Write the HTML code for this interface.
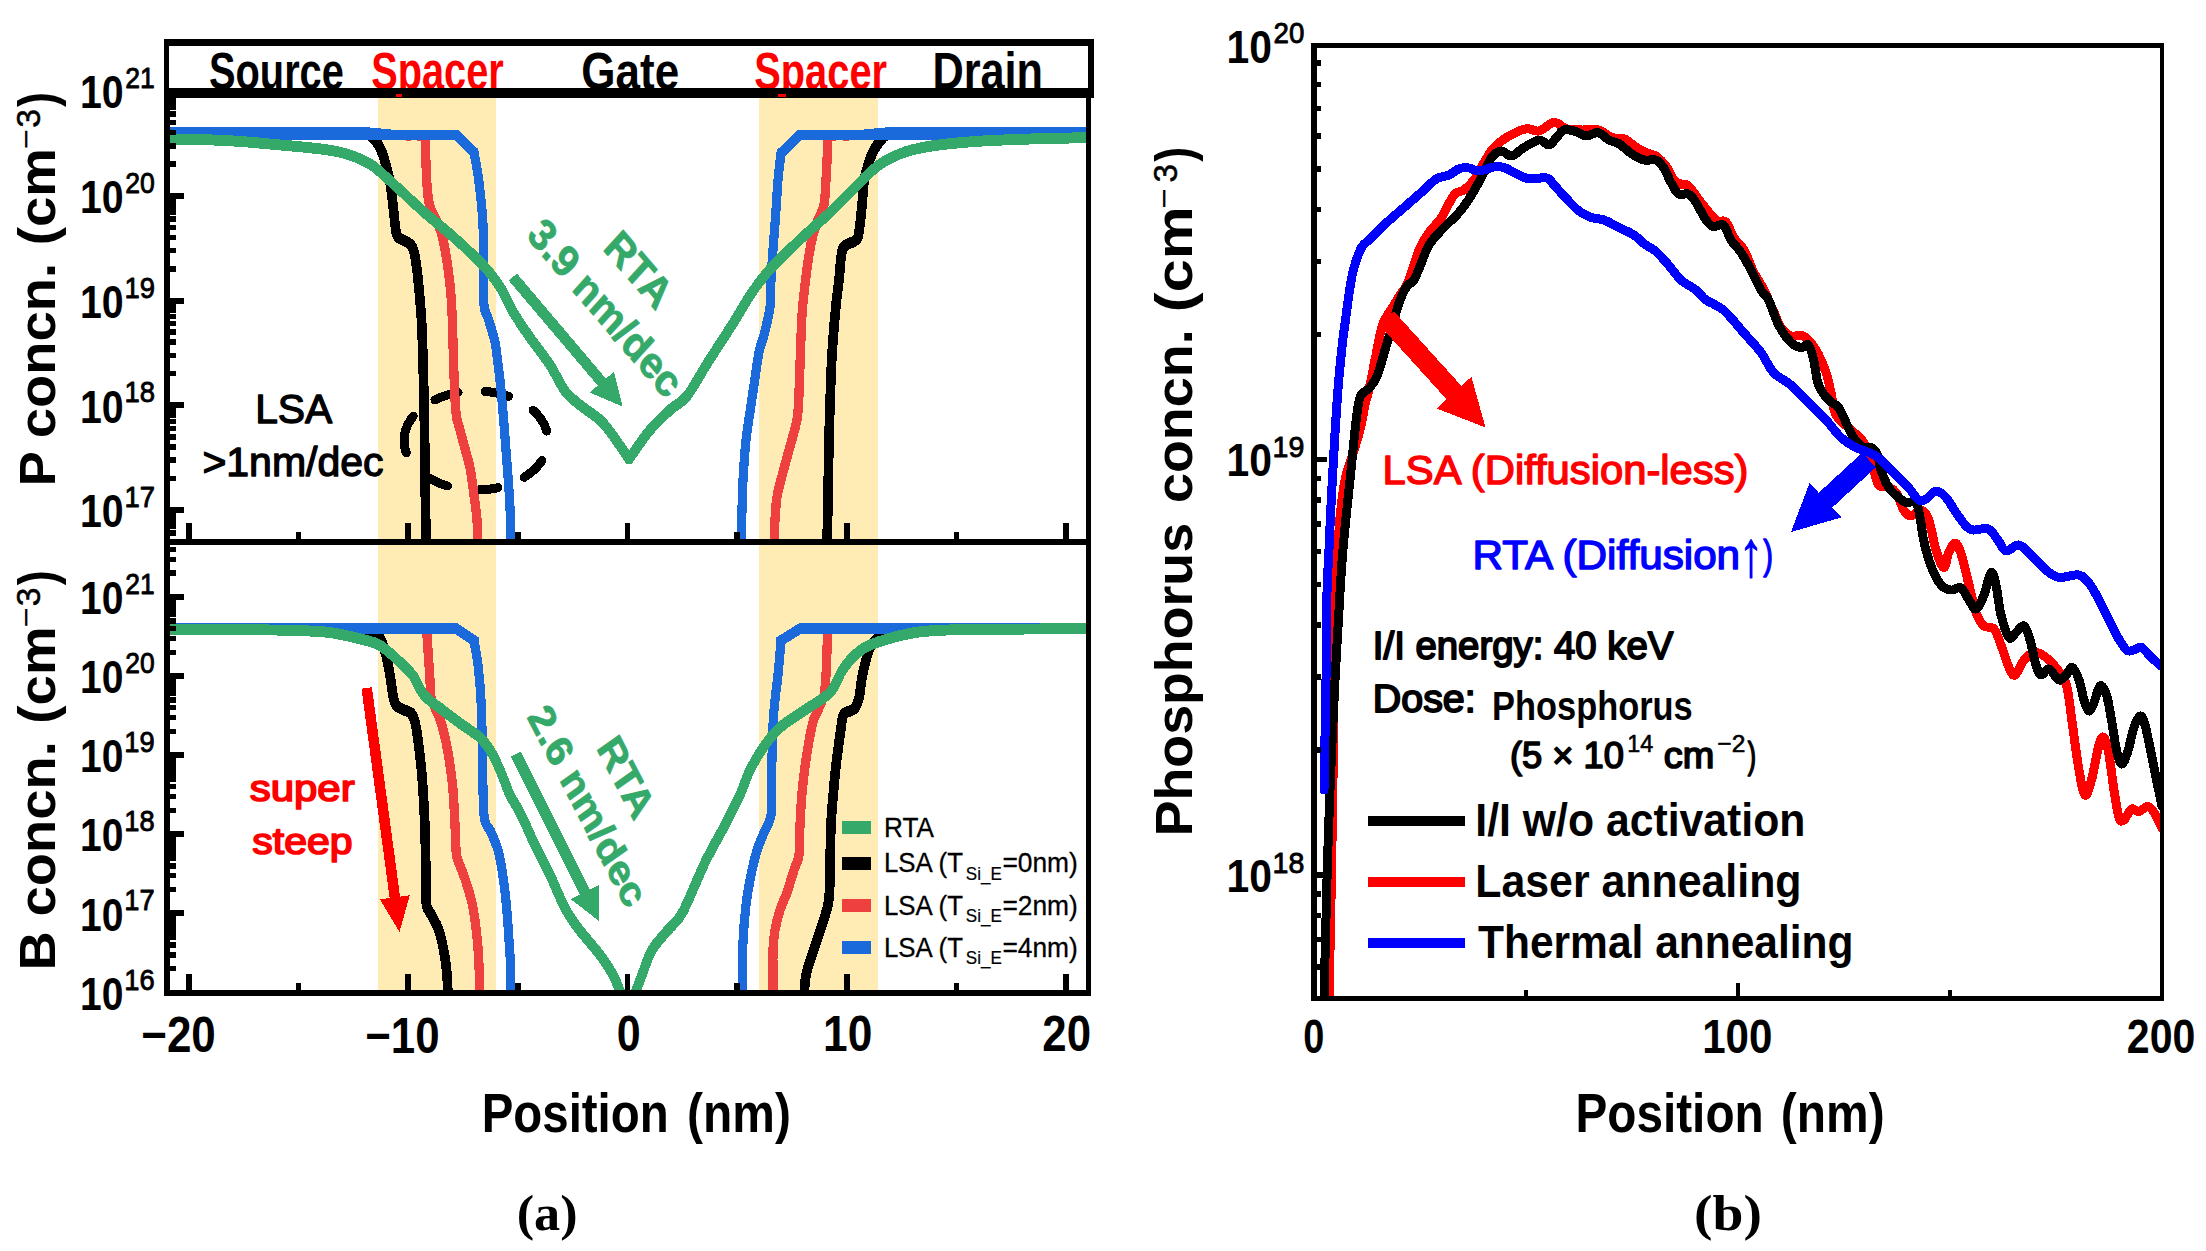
<!DOCTYPE html>
<html lang="en"><head><meta charset="utf-8"><title>Figure</title>
<style>html,body{margin:0;padding:0;background:#fff}svg{display:block}text{font-family:"Liberation Sans",Arial,sans-serif;white-space:pre}text.sf{font-family:"Liberation Serif","Times New Roman",serif}</style>
</head><body>
<svg width="2206" height="1251" viewBox="0 0 2206 1251" shape-rendering="crispEdges">
<rect width="2206" height="1251" fill="#fff"/>
<defs><clipPath id="cT"><rect x="170" y="98" width="916" height="441"/></clipPath><clipPath id="cB"><rect x="170" y="545" width="916" height="445"/></clipPath><clipPath id="cR"><rect x="1316" y="48" width="844" height="948"/></clipPath></defs>
<rect x="377.5" y="98" width="118" height="893" fill="#FFEBB4"/>
<rect x="759" y="98" width="119.3" height="893" fill="#FFEBB4"/>
<path d="M406.26,452.81L404.87,448.19L404.13,443.5L404.04,438.78L404.61,434.08L405.82,429.44L407.67,424.9L410.14,420.49L413.21,416.28" fill="none" stroke="#000" stroke-width="9" stroke-linecap="round" stroke-linejoin="round"/>
<path d="M434.91,399.85L437.58,398.64L440.33,397.5L443.14,396.45L446.03,395.49L448.97,394.62L451.97,393.84L455.01,393.15L458.09,392.56" fill="none" stroke="#000" stroke-width="9" stroke-linecap="round" stroke-linejoin="round"/>
<path d="M485.15,391.4L488.19,391.71L491.22,392.12L494.21,392.61L497.17,393.19L500.09,393.85L502.97,394.6L505.8,395.44L508.58,396.36" fill="none" stroke="#000" stroke-width="9" stroke-linecap="round" stroke-linejoin="round"/>
<path d="M532.97,410.23L535.43,412.56L537.7,414.99L539.76,417.5L541.6,420.09L543.21,422.75L544.6,425.47L545.76,428.24L546.68,431.05" fill="none" stroke="#000" stroke-width="9" stroke-linecap="round" stroke-linejoin="round"/>
<path d="M541.83,460.55L540.21,462.9L538.42,465.18L536.45,467.39L534.32,469.53L532.03,471.58L529.59,473.56L527,475.44L524.27,477.23" fill="none" stroke="#000" stroke-width="9" stroke-linecap="round" stroke-linejoin="round"/>
<path d="M497.89,487.66L495.53,488.14L493.14,488.58L490.74,488.95L488.32,489.27L485.88,489.53L483.43,489.74L480.98,489.88L478.51,489.97" fill="none" stroke="#000" stroke-width="9" stroke-linecap="round" stroke-linejoin="round"/>
<path d="M447.52,485.96L444.97,485.17L442.48,484.31L440.03,483.38L437.63,482.39L435.3,481.33L433.02,480.21L430.81,479.04L428.67,477.8" fill="none" stroke="#000" stroke-width="9" stroke-linecap="round" stroke-linejoin="round"/>
<g clip-path="url(#cT)"><g transform="scale(1 1.15)" stroke-linejoin="round">
<path d="M360,115.65C361.33,115.87 365.5,115.94 368,116.96C370.5,117.97 372.83,119.49 375,121.74C377.17,123.99 379.17,126.81 381,130.43C382.83,134.06 384.5,138.84 386,143.48C387.5,148.12 388.83,152.46 390,158.26C391.17,164.06 392.08,171.59 393,178.26C393.92,184.93 394.67,193.62 395.5,198.26C396.33,202.9 396.42,204.2 398,206.09C399.58,207.97 402.83,208.41 405,209.57C407.17,210.72 409.5,211.45 411,213.04C412.5,214.64 413,215.51 414,219.13C415,222.75 416,227.83 417,234.78C418,241.74 419.17,252.17 420,260.87C420.83,269.57 421.33,272.46 422,286.96C422.67,301.45 423.5,327.54 424,347.83C424.5,368.12 424.67,387.68 425,408.7C425.33,429.71 425.83,463.04 426,473.91" fill="none" stroke="#000" stroke-width="9.7" />
<path d="M895,115.65C893.67,115.87 889.5,115.8 887,116.96C884.5,118.12 882.33,120.07 880,122.61C877.67,125.14 875,128.7 873,132.17C871,135.65 869.5,139.13 868,143.48C866.5,147.83 865,152.46 864,158.26C863,164.06 862.83,171.01 862,178.26C861.17,185.51 860,196.67 859,201.74C858,206.81 857.83,206.96 856,208.7C854.17,210.43 850.17,211.01 848,212.17C845.83,213.33 844.17,213.62 843,215.65C841.83,217.68 841.67,219.71 841,224.35C840.33,228.99 839.83,236.67 839,243.48C838.17,250.29 837,256.52 836,265.22C835,273.91 833.83,285.51 833,295.65C832.17,305.8 831.67,311.59 831,326.09C830.33,340.58 829.5,364.49 829,382.61C828.5,400.72 828.33,419.57 828,434.78C827.67,450 827.17,467.39 827,473.91" fill="none" stroke="#000" stroke-width="9.7" />
<path d="M406,117.65C408.17,117.65 415.83,117.26 419,117.65C422.17,118.04 423.92,117.87 425,120C426.08,122.13 425.17,123.62 425.5,130.43C425.83,137.25 426.33,152.9 427,160.87C427.67,168.84 428,173.19 429.5,178.26C431,183.33 434.08,187.39 436,191.3C437.92,195.22 439.33,196.67 441,201.74C442.67,206.81 444.5,214.06 446,221.74C447.5,229.42 449,239.57 450,247.83C451,256.09 451.33,258.26 452,271.3C452.67,284.35 453.33,311.45 454,326.09C454.67,340.72 455,351.16 456,359.13C457,367.1 458.67,369.28 460,373.91C461.33,378.55 462.33,381.45 464,386.96C465.67,392.46 468.33,399.71 470,406.96C471.67,414.2 472.83,422.9 474,430.43C475.17,437.97 476.33,444.93 477,452.17C477.67,459.42 477.83,470.29 478,473.91" fill="none" stroke="#EF4040" stroke-width="9.3" />
<path d="M849,117.65C846.5,117.65 837.5,117.26 834,117.65C830.5,118.04 829.08,117.87 828,120C826.92,122.13 827.83,124.35 827.5,130.43C827.17,136.52 826.58,148.55 826,156.52C825.42,164.49 825.33,172.46 824,178.26C822.67,184.06 819.83,186.96 818,191.3C816.17,195.65 814.5,199.28 813,204.35C811.5,209.42 810.33,214.49 809,221.74C807.67,228.99 806.17,239.13 805,247.83C803.83,256.52 802.83,262.32 802,273.91C801.17,285.51 800.67,303.33 800,317.39C799.33,331.45 799,348.55 798,358.26C797,367.97 795.5,370.14 794,375.65C792.5,381.16 791,384.93 789,391.3C787,397.68 784,407.1 782,413.91C780,420.72 778.17,425.8 777,432.17C775.83,438.55 775.5,445.22 775,452.17C774.5,459.13 774.17,470.29 774,473.91" fill="none" stroke="#EF4040" stroke-width="9.3" />
<path d="M160,117.3L456,117.3L474,132.17L474,132.17C474.67,135.51 476.83,145.22 478,152.17C479.17,159.13 480.17,166.67 481,173.91C481.83,181.16 482.57,186.96 483,195.65C483.43,204.35 483.47,214.64 483.6,226.09C483.73,237.54 483.07,255.94 483.8,264.35C484.53,272.75 486.63,272.61 488,276.52C489.37,280.43 490.77,284.06 492,287.83C493.23,291.59 494.4,294.35 495.4,299.13C496.4,303.91 497.15,310.58 498,316.52C498.85,322.46 499.67,327.83 500.5,334.78C501.33,341.74 502.08,348.84 503,358.26C503.92,367.68 505,380 506,391.3C507,402.61 508.25,415.94 509,426.09C509.75,436.23 510.17,444.2 510.5,452.17C510.83,460.14 510.92,470.29 511,473.91" fill="none" stroke="#1A6ADC" stroke-width="9.2" stroke-linejoin="miter"/>
<path d="M1095,117.3L800,117.3L781,133.04L781,133.04C780.5,136.96 778.83,148.26 778,156.52C777.17,164.78 776.83,172.46 776,182.61C775.17,192.75 773.83,207.25 773,217.39C772.17,227.54 771.5,235.22 771,243.48C770.5,251.74 771.17,258.99 770,266.96C768.83,274.93 765.83,284.78 764,291.3C762.17,297.83 760.67,298.84 759,306.09C757.33,313.33 755.5,326.09 754,334.78C752.5,343.48 751.33,350.29 750,358.26C748.67,366.23 747.17,372.75 746,382.61C744.83,392.46 743.67,407.25 743,417.39C742.33,427.54 742.33,434.06 742,443.48C741.67,452.9 741.17,468.84 741,473.91" fill="none" stroke="#1A6ADC" stroke-width="9.2" stroke-linejoin="miter"/>
<path d="M160,115.13L366,115.13L392,117.3" fill="none" stroke="#1A6ADC" stroke-width="9.2" />
<path d="M1095,115.13L889,115.13L863,117.3" fill="none" stroke="#1A6ADC" stroke-width="9.2" />
<path d="M160,120.7C170.83,120.94 205.83,121.35 225,122.17C244.17,123 258.33,124.35 275,125.65C291.67,126.96 312.5,128.48 325,130C337.5,131.52 342.5,132.68 350,134.78C357.5,136.88 364.58,139.86 370,142.61C375.42,145.36 377.5,147.54 382.5,151.3C387.5,155.07 392.92,159.57 400,165.22C407.08,170.87 416.67,178.84 425,185.22C433.33,191.59 441.67,197.1 450,203.48C458.33,209.86 468.33,217.83 475,223.48C481.67,229.13 485.42,232.46 490,237.39C494.58,242.32 498.75,247.54 502.5,253.04C506.25,258.55 507.92,263.7 512.5,270.43C517.08,277.17 523.75,285.65 530,293.48C536.25,301.3 544.17,309.64 550,317.39C555.83,325.14 560,334.2 565,340C570,345.8 574.17,347.97 580,352.17C585.83,356.38 594.58,360.87 600,365.22C605.42,369.57 607.67,372.61 612.5,378.26C617.33,383.91 626.25,395.65 629,399.13L629,399.13C632.5,394.93 643.17,381.01 650,373.91C656.83,366.81 663.83,361.45 670,356.52C676.17,351.59 680.75,351.16 687,344.35C693.25,337.54 700,325.94 707.5,315.65C715,305.36 724.58,292.83 732,282.61C739.42,272.39 745.42,262.68 752,254.35C758.58,246.01 762.67,240.94 771.5,232.61C780.33,224.28 795.25,212.32 805,204.35C814.75,196.38 821.67,191.67 830,184.78C838.33,177.9 848.33,168.84 855,163.04C861.67,157.25 865,153.84 870,150C875,146.16 879.17,142.97 885,140C890.83,137.03 897.25,134.35 905,132.17C912.75,130 919.83,128.48 931.5,126.96C943.17,125.43 958.58,124.06 975,123.04C991.42,122.03 1010,121.45 1030,120.87C1050,120.29 1084.17,119.78 1095,119.57" fill="none" stroke="#35A96A" stroke-width="9.5" />
</g></g>
<g clip-path="url(#cB)"><g transform="scale(1 1.15)" stroke-linejoin="round">
<path d="M360,546.96C361.33,547.17 365.67,547.68 368,548.26C370.33,548.84 372,549.35 374,550.43C376,551.52 378,551.59 380,554.78C382,557.97 384.33,564.2 386,569.57C387.67,574.93 388.83,581.16 390,586.96C391.17,592.75 392,600 393,604.35C394,608.7 394.17,610.87 396,613.04C397.83,615.22 401.5,616.23 404,617.39C406.5,618.55 409.17,618.26 411,620C412.83,621.74 413.83,623.91 415,627.83C416.17,631.74 417,637.25 418,643.48C419,649.71 420.17,657.97 421,665.22C421.83,672.46 422.33,677.54 423,686.96C423.67,696.38 424.5,708.7 425,721.74C425.5,734.78 425.75,754.35 426,765.22C426.25,776.09 425.5,781.74 426.5,786.96C427.5,792.17 430.08,793.19 432,796.52C433.92,799.86 436.33,803.19 438,806.96C439.67,810.72 440.83,814.78 442,819.13C443.17,823.48 444.17,828.26 445,833.04C445.83,837.83 446.5,842.32 447,847.83C447.5,853.33 447.83,863.04 448,866.09" fill="none" stroke="#000" stroke-width="9.7" />
<path d="M895,546.96C893.83,547.17 890.17,547.39 888,548.26C885.83,549.13 885,549.71 882,552.17C879,554.64 873.25,557.25 870,563.04C866.75,568.84 864.33,579.64 862.5,586.96C860.67,594.28 860.42,602.03 859,606.96C857.58,611.88 856.5,614.2 854,616.52C851.5,618.84 846.17,618.12 844,620.87C841.83,623.62 842,627.83 841,633.04C840,638.26 839,645.36 838,652.17C837,658.99 836.17,663.04 835,673.91C833.83,684.78 831.83,702.9 831,717.39C830.17,731.88 830.42,749.71 830,760.87C829.58,772.03 829.83,777.1 828.5,784.35C827.17,791.59 824.75,796.67 822,804.35C819.25,812.03 814.67,823.19 812,830.43C809.33,837.68 807.33,841.88 806,847.83C804.67,853.77 804.33,863.04 804,866.09" fill="none" stroke="#000" stroke-width="9.7" />
<path d="M427,544.35C427,545.51 426.83,547.83 427,551.3C427.17,554.78 427.5,558.55 428,565.22C428.5,571.88 429.5,584.49 430,591.3C430.5,598.12 430,601.74 431,606.09C432,610.43 434.33,613.77 436,617.39C437.67,621.01 439.33,623.19 441,627.83C442.67,632.46 444.5,638.99 446,645.22C447.5,651.45 448.83,658.26 450,665.22C451.17,672.17 452.17,678.26 453,686.96C453.83,695.65 454.42,707.97 455,717.39C455.58,726.81 455.5,737.25 456.5,743.48C457.5,749.71 459.42,750.87 461,754.78C462.58,758.7 464.17,761.88 466,766.96C467.83,772.03 470.33,778.55 472,785.22C473.67,791.88 474.92,799.42 476,806.96C477.08,814.49 477.83,820.58 478.5,830.43C479.17,840.29 479.75,860.14 480,866.09" fill="none" stroke="#EF4040" stroke-width="9.3" />
<path d="M827.5,544.35C827.5,545.51 827.58,547.83 827.5,551.3C827.42,554.78 827.25,559.28 827,565.22C826.75,571.16 826.5,580.43 826,586.96C825.5,593.48 825.33,599.28 824,604.35C822.67,609.42 819.83,613.48 818,617.39C816.17,621.3 814.75,622.03 813,627.83C811.25,633.62 809.25,642.68 807.5,652.17C805.75,661.67 803.75,673.91 802.5,684.78C801.25,695.65 800.58,707.61 800,717.39C799.42,727.17 800,736.96 799,743.48C798,750 796,751.09 794,756.52C792,761.96 789.33,770.29 787,776.09C784.67,781.88 782,785.87 780,791.3C778,796.74 776.17,802.9 775,808.7C773.83,814.49 773.33,816.52 773,826.09C772.67,835.65 773,859.42 773,866.09" fill="none" stroke="#EF4040" stroke-width="9.3" />
<path d="M160,546.61L456,546.61L474,556.96L474,557.39C474.67,560.87 476.83,569.71 478,578.26C479.17,586.81 480.25,596.38 481,608.7C481.75,621.01 482,635.51 482.5,652.17C483,668.84 482.58,696.81 484,708.7C485.42,720.58 488.67,718.41 491,723.48C493.33,728.55 496.17,733.62 498,739.13C499.83,744.64 500.83,750.43 502,756.52C503.17,762.61 504.17,769.57 505,775.65C505.83,781.74 506.33,786.09 507,793.04C507.67,800 508.42,809.71 509,817.39C509.58,825.07 510.17,831.01 510.5,839.13C510.83,847.25 510.92,861.59 511,866.09" fill="none" stroke="#1A6ADC" stroke-width="9.2" stroke-linejoin="miter"/>
<path d="M1095,546.61L800,546.61L781,556.96L781,557.39C780.5,562.32 779,578.41 778,586.96C777,595.51 775.83,601.45 775,608.7C774.17,615.94 773.58,618.84 773,630.43C772.42,642.03 771.83,665.22 771.5,678.26C771.17,691.3 772.42,700.72 771,708.7C769.58,716.67 765.42,720.72 763,726.09C760.58,731.45 758.67,734.35 756.5,740.87C754.33,747.39 751.75,757.54 750,765.22C748.25,772.9 747.17,777.97 746,786.96C744.83,795.94 743.67,805.94 743,819.13C742.33,832.32 742.17,858.26 742,866.09" fill="none" stroke="#1A6ADC" stroke-width="9.2" stroke-linejoin="miter"/>
<path d="M160,547.57C179.17,547.61 247.5,547.49 275,547.83C302.5,548.16 312.5,548.62 325,549.57C337.5,550.51 341.67,551.88 350,553.48C358.33,555.07 369.17,557.32 375,559.13C380.83,560.94 381.67,562.25 385,564.35C388.33,566.45 390.42,567.97 395,571.74C399.58,575.51 407.67,581.52 412.5,586.96C417.33,592.39 419,599.28 424,604.35C429,609.42 436.08,613.04 442.5,617.39C448.92,621.74 456.25,626.45 462.5,630.43C468.75,634.42 475.42,637.68 480,641.3C484.58,644.93 486.67,647.46 490,652.17C493.33,656.88 496.67,663.04 500,669.57C503.33,676.09 506.67,685.14 510,691.3C513.33,697.46 515.83,699.28 520,706.52C524.17,713.77 530,725.72 535,734.78C540,743.84 545,751.74 550,760.87C555,770 560.33,781.88 565,789.57C569.67,797.25 572.17,800.14 578,806.96C583.83,813.77 594.17,823.62 600,830.43C605.83,837.25 609.33,841.88 613,847.83C616.67,853.77 620.5,863.04 622,866.09" fill="none" stroke="#35A96A" stroke-width="9.5" />
<path d="M634,866.09C635.33,863.04 639,854.49 642,847.83C645,841.16 647.67,832.61 652,826.09C656.33,819.57 662.92,814.13 668,808.7C673.08,803.26 676.33,803.26 682.5,793.48C688.67,783.7 697.92,762.68 705,750C712.08,737.32 719.17,727.17 725,717.39C730.83,707.61 735.83,699.28 740,691.3C744.17,683.33 745.83,676.81 750,669.57C754.17,662.32 760,653.99 765,647.83C770,641.67 773.33,637.68 780,632.61C786.67,627.54 796.67,622.46 805,617.39C813.33,612.32 823.75,607.97 830,602.17C836.25,596.38 838.33,588.04 842.5,582.61C846.67,577.17 850.42,573.19 855,569.57C859.58,565.94 861.67,563.84 870,560.87C878.33,557.9 894.75,553.8 905,551.74C915.25,549.68 919,549.28 931.5,548.52C944,547.77 952.75,547.51 980,547.22C1007.25,546.93 1075.83,546.86 1095,546.78" fill="none" stroke="#35A96A" stroke-width="9.5" />
</g></g>
<polygon points="508.68,280.49 597.7,385.57 589.61,392.42 622.5,406.5 614.02,371.74 605.94,378.59 516.92,273.51" fill="#35A96A"/>
<polygon points="510.99,756.49 579.74,894.84 570.88,899.24 599,921 598.64,885.45 589.77,889.85 521.01,751.51" fill="#35A96A"/>
<polygon points="361.5,688.7 389.63,898.01 379.97,899.31 399.5,932 409.7,895.31 400.04,896.61 371.9,687.3" fill="#FF0000"/>
<rect x="842" y="821.25" width="28.75" height="12.5" fill="#35A96A"/>
<rect x="842" y="857" width="28.75" height="12.5" fill="#000"/>
<rect x="842" y="899.25" width="28.75" height="12.5" fill="#EF4040"/>
<rect x="842" y="941.25" width="28.75" height="12.5" fill="#1A6ADC"/>
<text transform="translate(602.1 249) scale(1 1.13) rotate(45.8) translate(0 0)" font-size="39.1" font-weight="bold" fill="#35A96A" stroke="#35A96A" stroke-width="0.8" stroke-linejoin="round">RTA</text>
<text transform="translate(525.4 236.6) scale(1 1.13) rotate(45.8) translate(0 0)" font-size="39.1" font-weight="bold" fill="#35A96A" stroke="#35A96A" stroke-width="0.8" stroke-linejoin="round">3.9 nm/dec</text>
<text transform="translate(595.9 747.9) scale(1 1.17) rotate(58.7) translate(0 0)" font-size="37.4" font-weight="bold" fill="#35A96A" stroke="#35A96A" stroke-width="0.8" stroke-linejoin="round">RTA</text>
<text transform="translate(526.5 717.1) scale(1 1.17) rotate(58.7) translate(0 0)" font-size="37.4" font-weight="bold" fill="#35A96A" stroke="#35A96A" stroke-width="0.8" stroke-linejoin="round">2.6 nm/dec</text>
<text transform="translate(255.15 423.35) scale(0.9996 1.0000)" font-size="40.87" fill="#000" stroke="#000" stroke-width="1.3" stroke-linejoin="round">LSA</text>
<text transform="translate(202.39 476.1) scale(1.0031 1.0000)" font-size="40.87" fill="#000" stroke="#000" stroke-width="1.3" stroke-linejoin="round">&gt;1nm/dec</text>
<text transform="translate(249.73 801.15) scale(1.1223 1.0000)" font-size="37.39" fill="#FF0000" stroke="#FF0000" stroke-width="1.7" stroke-linejoin="round">super</text>
<text transform="translate(252.25 854.15) scale(1.0966 1.0000)" font-size="37.39" fill="#FF0000" stroke="#FF0000" stroke-width="1.7" stroke-linejoin="round">steep</text>
<text transform="translate(884.02 836.85) scale(0.9407 1.0000)" font-size="27.83" fill="#000" stroke="#000" stroke-width="0.3" stroke-linejoin="round">RTA</text>
<text transform="translate(883.99 872.35) scale(0.9534 1.0000)" font-size="27.1" fill="#000" stroke="#000" stroke-width="0.3" stroke-linejoin="round">LSA (T</text>
<text transform="translate(965.85 879.9) scale(0.9551 1.0000)" font-size="17.83" fill="#000" stroke="#000" stroke-width="0.2" stroke-linejoin="round">Si_E</text>
<text transform="translate(1002.43 872.35) scale(0.9725 1.0000)" font-size="27.1" fill="#000" stroke="#000" stroke-width="0.3" stroke-linejoin="round">=0nm)</text>
<text transform="translate(883.99 914.85) scale(0.9534 1.0000)" font-size="27.1" fill="#000" stroke="#000" stroke-width="0.3" stroke-linejoin="round">LSA (T</text>
<text transform="translate(965.85 922.4) scale(0.9551 1.0000)" font-size="17.83" fill="#000" stroke="#000" stroke-width="0.2" stroke-linejoin="round">Si_E</text>
<text transform="translate(1002.43 914.85) scale(0.9725 1.0000)" font-size="27.1" fill="#000" stroke="#000" stroke-width="0.3" stroke-linejoin="round">=2nm)</text>
<text transform="translate(883.99 956.85) scale(0.9534 1.0000)" font-size="27.1" fill="#000" stroke="#000" stroke-width="0.3" stroke-linejoin="round">LSA (T</text>
<text transform="translate(965.85 964.4) scale(0.9551 1.0000)" font-size="17.83" fill="#000" stroke="#000" stroke-width="0.2" stroke-linejoin="round">Si_E</text>
<text transform="translate(1002.43 956.85) scale(0.9725 1.0000)" font-size="27.1" fill="#000" stroke="#000" stroke-width="0.3" stroke-linejoin="round">=4nm)</text>
<clipPath id="cL"><rect x="165" y="40" width="928" height="57.4"/></clipPath><g clip-path="url(#cL)">
<text transform="translate(209.03 88.8) scale(0.7731 1.0000)" font-size="51.45" font-weight="bold" fill="#000">Source</text>
<text transform="translate(371.23 88.8) scale(0.7725 1.0000)" font-size="51.45" font-weight="bold" fill="#FF0000">Spacer</text>
<text transform="translate(581.29 88.8) scale(0.8556 1.0000)" font-size="51.45" font-weight="bold" fill="#000">Gate</text>
<text transform="translate(754.23 88.8) scale(0.7740 1.0000)" font-size="51.45" font-weight="bold" fill="#FF0000">Spacer</text>
<text transform="translate(932.38 88.8) scale(0.8416 1.0000)" font-size="51.45" font-weight="bold" fill="#000">Drain</text>
</g>
<rect x="164" y="39" width="930" height="6.9" fill="#000"/>
<rect x="164" y="88" width="930" height="9.6" fill="#000"/>
<rect x="395.5" y="94.2" width="6.8" height="2.4" fill="#FF0000"/>
<rect x="778.4" y="94.2" width="7.2" height="2.4" fill="#FF0000"/>
<rect x="164" y="39" width="5" height="58.6" fill="#000"/>
<rect x="1088.1" y="39" width="5.9" height="58.6" fill="#000"/>
<rect x="164" y="97" width="6.1" height="898.5" fill="#000"/>
<rect x="1086" y="97" width="5.1" height="898.5" fill="#000"/>
<rect x="164" y="538.75" width="927.1" height="6.25" fill="#000"/>
<rect x="164" y="990" width="927.1" height="5.5" fill="#000"/>
<rect x="170" y="530.49" width="5.9" height="5.5" fill="#000"/>
<rect x="170" y="523.48" width="5.9" height="5.5" fill="#000"/>
<rect x="170" y="517.4" width="5.9" height="5.5" fill="#000"/>
<rect x="170" y="512.04" width="5.9" height="5.5" fill="#000"/>
<rect x="170" y="507" width="13.75" height="6" fill="#000"/>
<rect x="170" y="475.72" width="5.9" height="5.5" fill="#000"/>
<rect x="170" y="457.27" width="5.9" height="5.5" fill="#000"/>
<rect x="170" y="444.18" width="5.9" height="5.5" fill="#000"/>
<rect x="170" y="434.03" width="5.9" height="5.5" fill="#000"/>
<rect x="170" y="425.74" width="5.9" height="5.5" fill="#000"/>
<rect x="170" y="418.73" width="5.9" height="5.5" fill="#000"/>
<rect x="170" y="412.65" width="5.9" height="5.5" fill="#000"/>
<rect x="170" y="407.29" width="5.9" height="5.5" fill="#000"/>
<rect x="170" y="402.25" width="13.75" height="6" fill="#000"/>
<rect x="170" y="370.97" width="5.9" height="5.5" fill="#000"/>
<rect x="170" y="352.52" width="5.9" height="5.5" fill="#000"/>
<rect x="170" y="339.43" width="5.9" height="5.5" fill="#000"/>
<rect x="170" y="329.28" width="5.9" height="5.5" fill="#000"/>
<rect x="170" y="320.99" width="5.9" height="5.5" fill="#000"/>
<rect x="170" y="313.98" width="5.9" height="5.5" fill="#000"/>
<rect x="170" y="307.9" width="5.9" height="5.5" fill="#000"/>
<rect x="170" y="302.54" width="5.9" height="5.5" fill="#000"/>
<rect x="170" y="297.5" width="13.75" height="6" fill="#000"/>
<rect x="170" y="266.22" width="5.9" height="5.5" fill="#000"/>
<rect x="170" y="247.77" width="5.9" height="5.5" fill="#000"/>
<rect x="170" y="234.68" width="5.9" height="5.5" fill="#000"/>
<rect x="170" y="224.53" width="5.9" height="5.5" fill="#000"/>
<rect x="170" y="216.24" width="5.9" height="5.5" fill="#000"/>
<rect x="170" y="209.23" width="5.9" height="5.5" fill="#000"/>
<rect x="170" y="203.15" width="5.9" height="5.5" fill="#000"/>
<rect x="170" y="197.79" width="5.9" height="5.5" fill="#000"/>
<rect x="170" y="192.75" width="13.75" height="6" fill="#000"/>
<rect x="170" y="161.47" width="5.9" height="5.5" fill="#000"/>
<rect x="170" y="143.02" width="5.9" height="5.5" fill="#000"/>
<rect x="170" y="129.93" width="5.9" height="5.5" fill="#000"/>
<rect x="170" y="119.78" width="5.9" height="5.5" fill="#000"/>
<rect x="170" y="111.49" width="5.9" height="5.5" fill="#000"/>
<rect x="170" y="104.48" width="5.9" height="5.5" fill="#000"/>
<rect x="170" y="98.4" width="5.9" height="5.5" fill="#000"/>
<rect x="170" y="965.94" width="5.9" height="5.5" fill="#000"/>
<rect x="170" y="952.01" width="5.9" height="5.5" fill="#000"/>
<rect x="170" y="942.13" width="5.9" height="5.5" fill="#000"/>
<rect x="170" y="934.46" width="5.9" height="5.5" fill="#000"/>
<rect x="170" y="928.2" width="5.9" height="5.5" fill="#000"/>
<rect x="170" y="922.9" width="5.9" height="5.5" fill="#000"/>
<rect x="170" y="918.32" width="5.9" height="5.5" fill="#000"/>
<rect x="170" y="914.27" width="5.9" height="5.5" fill="#000"/>
<rect x="170" y="910.4" width="13.75" height="6" fill="#000"/>
<rect x="170" y="886.84" width="5.9" height="5.5" fill="#000"/>
<rect x="170" y="872.91" width="5.9" height="5.5" fill="#000"/>
<rect x="170" y="863.03" width="5.9" height="5.5" fill="#000"/>
<rect x="170" y="855.36" width="5.9" height="5.5" fill="#000"/>
<rect x="170" y="849.1" width="5.9" height="5.5" fill="#000"/>
<rect x="170" y="843.8" width="5.9" height="5.5" fill="#000"/>
<rect x="170" y="839.22" width="5.9" height="5.5" fill="#000"/>
<rect x="170" y="835.17" width="5.9" height="5.5" fill="#000"/>
<rect x="170" y="831.3" width="13.75" height="6" fill="#000"/>
<rect x="170" y="807.74" width="5.9" height="5.5" fill="#000"/>
<rect x="170" y="793.81" width="5.9" height="5.5" fill="#000"/>
<rect x="170" y="783.93" width="5.9" height="5.5" fill="#000"/>
<rect x="170" y="776.26" width="5.9" height="5.5" fill="#000"/>
<rect x="170" y="770" width="5.9" height="5.5" fill="#000"/>
<rect x="170" y="764.7" width="5.9" height="5.5" fill="#000"/>
<rect x="170" y="760.12" width="5.9" height="5.5" fill="#000"/>
<rect x="170" y="756.07" width="5.9" height="5.5" fill="#000"/>
<rect x="170" y="752.2" width="13.75" height="6" fill="#000"/>
<rect x="170" y="728.64" width="5.9" height="5.5" fill="#000"/>
<rect x="170" y="714.71" width="5.9" height="5.5" fill="#000"/>
<rect x="170" y="704.83" width="5.9" height="5.5" fill="#000"/>
<rect x="170" y="697.16" width="5.9" height="5.5" fill="#000"/>
<rect x="170" y="690.9" width="5.9" height="5.5" fill="#000"/>
<rect x="170" y="685.6" width="5.9" height="5.5" fill="#000"/>
<rect x="170" y="681.02" width="5.9" height="5.5" fill="#000"/>
<rect x="170" y="676.97" width="5.9" height="5.5" fill="#000"/>
<rect x="170" y="673.1" width="13.75" height="6" fill="#000"/>
<rect x="170" y="649.54" width="5.9" height="5.5" fill="#000"/>
<rect x="170" y="635.61" width="5.9" height="5.5" fill="#000"/>
<rect x="170" y="625.73" width="5.9" height="5.5" fill="#000"/>
<rect x="170" y="618.06" width="5.9" height="5.5" fill="#000"/>
<rect x="170" y="611.8" width="5.9" height="5.5" fill="#000"/>
<rect x="170" y="606.5" width="5.9" height="5.5" fill="#000"/>
<rect x="170" y="601.92" width="5.9" height="5.5" fill="#000"/>
<rect x="170" y="597.87" width="5.9" height="5.5" fill="#000"/>
<rect x="170" y="594" width="13.75" height="6" fill="#000"/>
<rect x="170" y="570.44" width="5.9" height="5.5" fill="#000"/>
<rect x="170" y="556.51" width="5.9" height="5.5" fill="#000"/>
<rect x="170" y="546.63" width="5.9" height="5.5" fill="#000"/>
<rect x="186.15" y="523" width="5.5" height="16" fill="#000"/>
<rect x="186.15" y="974" width="5.5" height="16.5" fill="#000"/>
<rect x="295.8" y="531.75" width="5.5" height="7.25" fill="#000"/>
<rect x="295.8" y="983" width="5.5" height="7.5" fill="#000"/>
<rect x="405.45" y="523" width="5.5" height="16" fill="#000"/>
<rect x="405.45" y="974" width="5.5" height="16.5" fill="#000"/>
<rect x="515.1" y="531.75" width="5.5" height="7.25" fill="#000"/>
<rect x="515.1" y="983" width="5.5" height="7.5" fill="#000"/>
<rect x="624.75" y="523" width="5.5" height="16" fill="#000"/>
<rect x="624.75" y="974" width="5.5" height="16.5" fill="#000"/>
<rect x="734.4" y="531.75" width="5.5" height="7.25" fill="#000"/>
<rect x="734.4" y="983" width="5.5" height="7.5" fill="#000"/>
<rect x="844.05" y="523" width="5.5" height="16" fill="#000"/>
<rect x="844.05" y="974" width="5.5" height="16.5" fill="#000"/>
<rect x="953.7" y="531.75" width="5.5" height="7.25" fill="#000"/>
<rect x="953.7" y="983" width="5.5" height="7.5" fill="#000"/>
<rect x="1063.35" y="523" width="5.5" height="16" fill="#000"/>
<rect x="1063.35" y="974" width="5.5" height="16.5" fill="#000"/>
<g clip-path="url(#cR)" stroke-linejoin="round" stroke-linecap="round">
<path d="M1329,1000C1329.33,983.33 1330.33,936.67 1331,900C1331.67,863.33 1332.5,813.33 1333,780C1333.5,746.67 1333.67,731.25 1334,700C1334.33,668.75 1334.42,616.67 1335,592.5C1335.58,568.33 1336.67,567.5 1337.5,555C1338.33,542.5 1338.75,530 1340,517.5C1341.25,505 1342.92,490.42 1345,480C1347.08,469.58 1350,463.33 1352.5,455C1355,446.67 1357.92,438.33 1360,430C1362.08,421.67 1363.33,412.5 1365,405C1366.67,397.5 1368.17,393.33 1370,385C1371.83,376.67 1373.92,365 1376,355C1378.08,345 1379.75,332.92 1382.5,325C1385.25,317.08 1389.58,312.5 1392.5,307.5C1395.42,302.5 1397.42,299.17 1400,295C1402.58,290.83 1404.83,290 1408,282.5C1411.17,275 1415.5,258.33 1419,250C1422.5,241.67 1425.25,237.92 1429,232.5C1432.75,227.08 1437.33,223.75 1441.5,217.5C1445.67,211.25 1450.25,199.58 1454,195C1457.75,190.42 1460.67,192.5 1464,190C1467.33,187.5 1470.67,184.58 1474,180C1477.33,175.42 1480.67,167.92 1484,162.5C1487.33,157.08 1489.83,151.92 1494,147.5C1498.17,143.08 1503.58,139.12 1509,136C1514.42,132.88 1521.5,129.58 1526.5,128.75C1531.5,127.92 1534.42,132.04 1539,131C1543.58,129.96 1549.42,122.88 1554,122.5C1558.58,122.12 1561.92,127.5 1566.5,128.75C1571.08,130 1576.08,129.79 1581.5,130C1586.92,130.21 1594,128.75 1599,130C1604,131.25 1607.33,136.04 1611.5,137.5C1615.67,138.96 1619.83,137.08 1624,138.75C1628.17,140.42 1632.33,145 1636.5,147.5C1640.67,150 1645.75,152.33 1649,153.75C1652.25,155.17 1653.17,153.96 1656,156C1658.83,158.04 1663,162 1666,166C1669,170 1671.5,177 1674,180C1676.5,183 1678.58,183 1681,184C1683.42,185 1685.17,182.92 1688.5,186C1691.83,189.08 1696.42,196.83 1701,202.5C1705.58,208.17 1711.83,216.75 1716,220C1720.17,223.25 1723,219 1726,222C1729,225 1731,233.33 1734,238C1737,242.67 1740.73,244.33 1744,250C1747.27,255.67 1750.27,265.33 1753.6,272C1756.93,278.67 1760.77,283.67 1764,290C1767.23,296.33 1770.17,303.75 1773,310C1775.83,316.25 1778,323.17 1781,327.5C1784,331.83 1787.23,334.58 1791,336C1794.77,337.42 1799.43,333.67 1803.6,336C1807.77,338.33 1812.27,343.92 1816,350C1819.73,356.08 1823.5,365.42 1826,372.5C1828.5,379.58 1829.33,385.42 1831,392.5C1832.67,399.58 1832.67,408.75 1836,415C1839.33,421.25 1846.38,425.42 1851,430C1855.62,434.58 1859.92,435.83 1863.7,442.5C1867.48,449.17 1871.2,462.92 1873.7,470C1876.2,477.08 1876.2,482.08 1878.7,485C1881.2,487.92 1885.82,486.25 1888.7,487.5C1891.58,488.75 1893.5,488.75 1896,492.5C1898.5,496.25 1901.2,506.08 1903.7,510C1906.2,513.92 1908.12,516 1911,516C1913.88,516 1918.03,509.33 1921,510C1923.97,510.67 1926.3,513.33 1928.8,520C1931.3,526.67 1933.5,542.08 1936,550C1938.5,557.92 1941.67,567.08 1943.8,567.5C1945.93,567.92 1946.93,556.58 1948.8,552.5C1950.67,548.42 1952.97,542.83 1955,543C1957.03,543.17 1958.67,546.5 1961,553.5C1963.33,560.5 1966.5,575.17 1969,585C1971.5,594.83 1973.5,605.67 1976,612.5C1978.5,619.33 1981,623.25 1984,626C1987,628.75 1991.17,625.83 1994,629C1996.83,632.17 1998.5,638.58 2001,645C2003.5,651.42 2006.67,662.5 2009,667.5C2011.33,672.5 2012.5,676.25 2015,675C2017.5,673.75 2020.83,663.75 2024,660C2027.17,656.25 2030.33,652.92 2034,652.5C2037.67,652.08 2041.42,653.75 2046,657.5C2050.58,661.25 2057.92,669.58 2061.5,675C2065.08,680.42 2065.67,681.67 2067.5,690C2069.33,698.33 2070.58,711.67 2072.5,725C2074.42,738.33 2076.92,758.33 2079,770C2081.08,781.67 2082.92,793.33 2085,795C2087.08,796.67 2089.17,788.33 2091.5,780C2093.83,771.67 2096.92,752.08 2099,745C2101.08,737.92 2102.33,735.83 2104,737.5C2105.67,739.17 2107.33,746.25 2109,755C2110.67,763.75 2112.33,779.58 2114,790C2115.67,800.42 2117.33,812.5 2119,817.5C2120.67,822.5 2121.92,821.42 2124,820C2126.08,818.58 2129,810.42 2131.5,809C2134,807.58 2136.33,811.92 2139,811.5C2141.67,811.08 2145,806.33 2147.5,806.5C2150,806.67 2151.58,808.92 2154,812.5C2156.42,816.08 2160.67,825.42 2162,828" fill="none" stroke="#FF0000" stroke-width="9" />
<path d="M1324,1000C1324.5,980 1326,915 1327,880C1328,845 1328.67,823.33 1330,790C1331.33,756.67 1333.33,712.92 1335,680C1336.67,647.08 1338.75,613.33 1340,592.5C1341.25,571.67 1341.5,567.5 1342.5,555C1343.5,542.5 1344.75,530 1346,517.5C1347.25,505 1348.71,492.5 1350,480C1351.29,467.5 1352.5,454.17 1353.75,442.5C1355,430.83 1356.29,417.92 1357.5,410C1358.71,402.08 1358.92,398.75 1361,395C1363.08,391.25 1367.25,390.83 1370,387.5C1372.75,384.17 1375,381.25 1377.5,375C1380,368.75 1382.5,358.33 1385,350C1387.5,341.67 1390,333.33 1392.5,325C1395,316.67 1397.58,306.5 1400,300C1402.42,293.5 1404.67,289.33 1407,286C1409.33,282.67 1411.58,283.92 1414,280C1416.42,276.08 1419,268.33 1421.5,262.5C1424,256.67 1425.67,250.42 1429,245C1432.33,239.58 1436.5,235.42 1441.5,230C1446.5,224.58 1454,218.33 1459,212.5C1464,206.67 1467.33,201.67 1471.5,195C1475.67,188.33 1480.67,178.75 1484,172.5C1487.33,166.25 1488.58,161.08 1491.5,157.5C1494.42,153.92 1498.17,151.25 1501.5,151C1504.83,150.75 1507.75,156.58 1511.5,156C1515.25,155.42 1519.42,150.17 1524,147.5C1528.58,144.83 1534.83,140.42 1539,140C1543.17,139.58 1546.08,145.42 1549,145C1551.92,144.58 1554,140 1556.5,137.5C1559,135 1561.08,131.08 1564,130C1566.92,128.92 1570.25,130 1574,131C1577.75,132 1582.5,135.75 1586.5,136C1590.5,136.25 1594.25,131.83 1598,132.5C1601.75,133.17 1605.5,138.12 1609,140C1612.5,141.88 1615.25,141.46 1619,143.75C1622.75,146.04 1627.33,151.04 1631.5,153.75C1635.67,156.46 1639.92,158.96 1644,160C1648.08,161.04 1652.75,158.75 1656,160C1659.25,161.25 1661,163.75 1663.5,167.5C1666,171.25 1668.5,178.08 1671,182.5C1673.5,186.92 1675.58,192.08 1678.5,194C1681.42,195.92 1685.58,192.58 1688.5,194C1691.42,195.42 1693.08,198.17 1696,202.5C1698.92,206.83 1703.08,216 1706,220C1708.92,224 1710.58,225.67 1713.5,226.5C1716.42,227.33 1720.58,222.75 1723.5,225C1726.42,227.25 1728.08,235.42 1731,240C1733.92,244.58 1737.67,247.5 1741,252.5C1744.33,257.5 1747.67,263.75 1751,270C1754.33,276.25 1758.07,285 1761,290C1763.93,295 1765.67,294.17 1768.6,300C1771.53,305.83 1774.87,317.92 1778.6,325C1782.33,332.08 1787.27,338.75 1791,342.5C1794.73,346.25 1798.07,347.08 1801,347.5C1803.93,347.92 1806.5,342.92 1808.6,345C1810.7,347.08 1811.93,353.33 1813.6,360C1815.27,366.67 1816.1,378.33 1818.6,385C1821.1,391.67 1825.27,396.25 1828.6,400C1831.93,403.75 1835.7,403.75 1838.6,407.5C1841.5,411.25 1843.5,417.5 1846,422.5C1848.5,427.5 1850.67,433.33 1853.6,437.5C1856.53,441.67 1860.7,445.83 1863.6,447.5C1866.5,449.17 1868.68,446.25 1871,447.5C1873.32,448.75 1875.83,451.25 1877.5,455C1879.17,458.75 1879.13,464.58 1881,470C1882.87,475.42 1885.75,482.92 1888.7,487.5C1891.65,492.08 1895.82,495 1898.7,497.5C1901.58,500 1903.12,501.67 1906,502.5C1908.88,503.33 1913.67,500 1916,502.5C1918.33,505 1918.7,511.08 1920,517.5C1921.3,523.92 1921.97,532.92 1923.8,541C1925.63,549.08 1928.13,558.67 1931,566C1933.87,573.33 1937.67,581 1941,585C1944.33,589 1947.67,589.5 1951,590C1954.33,590.5 1958,586.33 1961,588C1964,589.67 1966.5,596.5 1969,600C1971.5,603.5 1973.5,609.83 1976,609C1978.5,608.17 1981.5,601.08 1984,595C1986.5,588.92 1989,574.17 1991,572.5C1993,570.83 1994.33,577.92 1996,585C1997.67,592.08 1998.83,606.25 2001,615C2003.17,623.75 2006.5,634.58 2009,637.5C2011.5,640.42 2013.5,634.42 2016,632.5C2018.5,630.58 2021.67,624.75 2024,626C2026.33,627.25 2028,633.5 2030,640C2032,646.5 2034.17,659.17 2036,665C2037.83,670.83 2038.83,674.33 2041,675C2043.17,675.67 2046,668.17 2049,669C2052,669.83 2056.17,679 2059,680C2061.83,681 2063.75,677.08 2066,675C2068.25,672.92 2070.33,666.67 2072.5,667.5C2074.67,668.33 2077.08,674.58 2079,680C2080.92,685.42 2082.33,694.83 2084,700C2085.67,705.17 2087.33,710.58 2089,711C2090.67,711.42 2092.17,706.67 2094,702.5C2095.83,698.33 2097.92,687.25 2100,686C2102.08,684.75 2104.58,689.33 2106.5,695C2108.42,700.67 2109.83,710.83 2111.5,720C2113.17,729.17 2114.83,742.67 2116.5,750C2118.17,757.33 2119.67,763.58 2121.5,764C2123.33,764.42 2125.42,758.58 2127.5,752.5C2129.58,746.42 2131.92,733.58 2134,727.5C2136.08,721.42 2138.17,716.42 2140,716C2141.83,715.58 2143.08,718.5 2145,725C2146.92,731.5 2149.58,745.83 2151.5,755C2153.42,764.17 2154.75,771.5 2156.5,780C2158.25,788.5 2161.08,801.67 2162,806" fill="none" stroke="#000" stroke-width="9" />
</g>
<g clip-path="url(#cR)">
<path d="M1324,790C1324.33,771.67 1325.5,712.92 1326,680C1326.5,647.08 1326.54,613.33 1327,592.5C1327.46,571.67 1328.08,569.58 1328.75,555C1329.42,540.42 1330.17,521.67 1331,505C1331.83,488.33 1332.92,469.58 1333.75,455C1334.58,440.42 1335.17,430 1336,417.5C1336.83,405 1337.67,392.5 1338.75,380C1339.83,367.5 1341.21,353.75 1342.5,342.5C1343.79,331.25 1345.25,321.67 1346.5,312.5C1347.75,303.33 1348.75,295 1350,287.5C1351.25,280 1352.08,274.17 1354,267.5C1355.92,260.83 1359,252.08 1361.5,247.5C1364,242.92 1365.25,243.75 1369,240C1372.75,236.25 1378.17,230.42 1384,225C1389.83,219.58 1397.33,213.33 1404,207.5C1410.67,201.67 1418.58,194.79 1424,190C1429.42,185.21 1432.33,181.25 1436.5,178.75C1440.67,176.25 1445.25,176.67 1449,175C1452.75,173.33 1455.67,169.92 1459,168.75C1462.33,167.58 1465.67,167.62 1469,168C1472.33,168.38 1474.83,171.17 1479,171C1483.17,170.83 1489.83,167.58 1494,167C1498.17,166.42 1500.25,166.38 1504,167.5C1507.75,168.62 1512.33,171.88 1516.5,173.75C1520.67,175.62 1524,178.04 1529,178.75C1534,179.46 1542.33,176.96 1546.5,178C1550.67,179.04 1550.67,181.54 1554,185C1557.33,188.46 1562.33,194.42 1566.5,198.75C1570.67,203.08 1574.83,207.88 1579,211C1583.17,214.12 1587.33,216 1591.5,217.5C1595.67,219 1599.42,218.33 1604,220C1608.58,221.67 1614,225 1619,227.5C1624,230 1629.83,232.29 1634,235C1638.17,237.71 1640.33,241 1644,243.75C1647.67,246.5 1651.92,247.96 1656,251.5C1660.08,255.04 1664.33,260.25 1668.5,265C1672.67,269.75 1676.42,275.83 1681,280C1685.58,284.17 1691.83,286.67 1696,290C1700.17,293.33 1701.42,296.67 1706,300C1710.58,303.33 1717.25,304.58 1723.5,310C1729.75,315.42 1737.25,325.42 1743.5,332.5C1749.75,339.58 1756,345.83 1761,352.5C1766,359.17 1768.5,367.08 1773.5,372.5C1778.5,377.92 1785.58,380.42 1791,385C1796.42,389.58 1800.17,394.17 1806,400C1811.83,405.83 1820.17,413.75 1826,420C1831.83,426.25 1836,432.92 1841,437.5C1846,442.08 1850.17,444.42 1856,447.5C1861.83,450.58 1869.75,451.83 1876,456C1882.25,460.17 1888.08,467.25 1893.5,472.5C1898.92,477.75 1904.33,482.92 1908.5,487.5C1912.67,492.08 1915.58,498.08 1918.5,500C1921.42,501.92 1923.08,500.5 1926,499C1928.92,497.5 1932.67,491.25 1936,491C1939.33,490.75 1942.67,493.92 1946,497.5C1949.33,501.08 1952.67,507.75 1956,512.5C1959.33,517.25 1963.08,523.08 1966,526C1968.92,528.92 1969.75,529.5 1973.5,530C1977.25,530.5 1984.33,527.17 1988.5,529C1992.67,530.83 1995.58,537.33 1998.5,541C2001.42,544.67 2002.58,550.33 2006,551C2009.42,551.67 2014.83,544.33 2019,545C2023.17,545.67 2026.5,550.83 2031,555C2035.5,559.17 2041.33,566.25 2046,570C2050.67,573.75 2053.5,576.67 2059,577.5C2064.5,578.33 2073.67,573.58 2079,575C2084.33,576.42 2086.83,580.17 2091,586C2095.17,591.83 2099.75,601.83 2104,610C2108.25,618.17 2112.75,628.33 2116.5,635C2120.25,641.67 2123.58,647.5 2126.5,650C2129.42,652.5 2131.5,650.42 2134,650C2136.5,649.58 2138.58,646.25 2141.5,647.5C2144.42,648.75 2148.25,654.42 2151.5,657.5C2154.75,660.58 2159.42,664.58 2161,666" fill="none" stroke="#0000FF" stroke-width="9" stroke-linejoin="round" stroke-linecap="round"/>
</g>
<polygon points="1379.08,324.71 1446.56,399.34 1436.55,408.4 1485.5,427.5 1471.41,376.88 1461.4,385.93 1393.92,311.29" fill="#FF0000"/>
<polygon points="1862.22,452.65 1818.75,492.77 1809.6,482.85 1791,532 1841.48,517.39 1832.32,507.47 1875.78,467.35" fill="#0000FF"/>
<rect x="1367.75" y="816.25" width="97" height="10" fill="#000"/>
<rect x="1367.75" y="877" width="97" height="10" fill="#FF0000"/>
<rect x="1367.75" y="937.5" width="97" height="10" fill="#0000FF"/>
<rect x="1311" y="43" width="853" height="5" fill="#000"/>
<rect x="1311" y="995.5" width="853" height="5.5" fill="#000"/>
<rect x="1311" y="43" width="5.5" height="958" fill="#000"/>
<rect x="2159.7" y="43" width="4.3" height="958" fill="#000"/>
<rect x="1316.5" y="964.43" width="4.8" height="5.5" fill="#000"/>
<rect x="1316.5" y="936.61" width="4.8" height="5.5" fill="#000"/>
<rect x="1316.5" y="912.52" width="4.8" height="5.5" fill="#000"/>
<rect x="1316.5" y="891.26" width="4.8" height="5.5" fill="#000"/>
<rect x="1316.5" y="872.25" width="10.5" height="5.5" fill="#000"/>
<rect x="1316.5" y="747.17" width="4.8" height="5.5" fill="#000"/>
<rect x="1316.5" y="674.01" width="4.8" height="5.5" fill="#000"/>
<rect x="1316.5" y="622.09" width="4.8" height="5.5" fill="#000"/>
<rect x="1316.5" y="581.83" width="4.8" height="5.5" fill="#000"/>
<rect x="1316.5" y="548.93" width="4.8" height="5.5" fill="#000"/>
<rect x="1316.5" y="521.11" width="4.8" height="5.5" fill="#000"/>
<rect x="1316.5" y="497.02" width="4.8" height="5.5" fill="#000"/>
<rect x="1316.5" y="475.76" width="4.8" height="5.5" fill="#000"/>
<rect x="1316.5" y="456.75" width="10.5" height="5.5" fill="#000"/>
<rect x="1316.5" y="331.67" width="4.8" height="5.5" fill="#000"/>
<rect x="1316.5" y="258.51" width="4.8" height="5.5" fill="#000"/>
<rect x="1316.5" y="206.59" width="4.8" height="5.5" fill="#000"/>
<rect x="1316.5" y="166.33" width="4.8" height="5.5" fill="#000"/>
<rect x="1316.5" y="133.43" width="4.8" height="5.5" fill="#000"/>
<rect x="1316.5" y="105.61" width="4.8" height="5.5" fill="#000"/>
<rect x="1316.5" y="81.52" width="4.8" height="5.5" fill="#000"/>
<rect x="1316.5" y="60.26" width="4.8" height="5.5" fill="#000"/>
<rect x="1523.53" y="990" width="4.5" height="6" fill="#000"/>
<rect x="1735.55" y="983" width="4.5" height="13" fill="#000"/>
<rect x="1947.58" y="990" width="4.5" height="6" fill="#000"/>
<text transform="translate(80 108.2) scale(0.8476 1.0000)" font-size="46.38" font-weight="bold" fill="#000">10</text>
<text transform="translate(125.32 87.95) scale(0.8778 1.0000)" font-size="30.29" fill="#000" stroke="#000" stroke-width="0.9" stroke-linejoin="round">21</text>
<text transform="translate(80 212.95) scale(0.8476 1.0000)" font-size="46.38" font-weight="bold" fill="#000">10</text>
<text transform="translate(125.32 192.7) scale(0.8778 1.0000)" font-size="30.29" fill="#000" stroke="#000" stroke-width="0.9" stroke-linejoin="round">20</text>
<text transform="translate(80 318.2) scale(0.8476 1.0000)" font-size="46.38" font-weight="bold" fill="#000">10</text>
<text transform="translate(124.39 297.95) scale(0.9063 1.0000)" font-size="30.29" fill="#000" stroke="#000" stroke-width="0.9" stroke-linejoin="round">19</text>
<text transform="translate(80 422.7) scale(0.8476 1.0000)" font-size="46.38" font-weight="bold" fill="#000">10</text>
<text transform="translate(124.39 402.45) scale(0.9063 1.0000)" font-size="30.29" fill="#000" stroke="#000" stroke-width="0.9" stroke-linejoin="round">18</text>
<text transform="translate(80 527.2) scale(0.8476 1.0000)" font-size="46.38" font-weight="bold" fill="#000">10</text>
<text transform="translate(124.39 506.95) scale(0.9063 1.0000)" font-size="30.29" fill="#000" stroke="#000" stroke-width="0.9" stroke-linejoin="round">17</text>
<text transform="translate(79.99 614) scale(0.8547 1.0000)" font-size="45.65" font-weight="bold" fill="#000">10</text>
<text transform="translate(125.32 593.95) scale(0.8846 1.0000)" font-size="29.86" fill="#000" stroke="#000" stroke-width="0.9" stroke-linejoin="round">21</text>
<text transform="translate(79.99 693.2) scale(0.8547 1.0000)" font-size="45.65" font-weight="bold" fill="#000">10</text>
<text transform="translate(125.32 673.15) scale(0.8846 1.0000)" font-size="29.86" fill="#000" stroke="#000" stroke-width="0.9" stroke-linejoin="round">20</text>
<text transform="translate(79.99 772.3) scale(0.8547 1.0000)" font-size="45.65" font-weight="bold" fill="#000">10</text>
<text transform="translate(124.37 752.25) scale(0.9135 1.0000)" font-size="29.86" fill="#000" stroke="#000" stroke-width="0.9" stroke-linejoin="round">19</text>
<text transform="translate(79.99 851.4) scale(0.8547 1.0000)" font-size="45.65" font-weight="bold" fill="#000">10</text>
<text transform="translate(124.37 831.35) scale(0.9135 1.0000)" font-size="29.86" fill="#000" stroke="#000" stroke-width="0.9" stroke-linejoin="round">18</text>
<text transform="translate(79.99 930.5) scale(0.8547 1.0000)" font-size="45.65" font-weight="bold" fill="#000">10</text>
<text transform="translate(124.37 910.45) scale(0.9135 1.0000)" font-size="29.86" fill="#000" stroke="#000" stroke-width="0.9" stroke-linejoin="round">17</text>
<text transform="translate(79.99 1009.6) scale(0.8547 1.0000)" font-size="45.65" font-weight="bold" fill="#000">10</text>
<text transform="translate(124.37 989.55) scale(0.9135 1.0000)" font-size="29.86" fill="#000" stroke="#000" stroke-width="0.9" stroke-linejoin="round">16</text>
<text transform="translate(141.24 1051.6) scale(0.8796 1.0000)" font-size="50" font-weight="bold" fill="#000">−20</text>
<text transform="translate(365.25 1052.8) scale(0.8765 1.0000)" font-size="50" font-weight="bold" fill="#000">−10</text>
<text transform="translate(616.64 1051.2) scale(0.8600 1.0000)" font-size="50" font-weight="bold" fill="#000">0</text>
<text transform="translate(823.09 1051.2) scale(0.8857 1.0000)" font-size="50" font-weight="bold" fill="#000">10</text>
<text transform="translate(1042.37 1051.2) scale(0.8758 1.0000)" font-size="50" font-weight="bold" fill="#000">20</text>
<text transform="translate(481.68 1132) scale(0.8555 1.0000)" font-size="55.43" font-weight="bold" fill="#000">Position</text>
<text transform="translate(687.02 1132) scale(0.8651 1.0000)" font-size="55.43" font-weight="bold" fill="#000">(nm)</text>
<text transform="translate(516.68 1229.5) scale(1.0371 1.0000)" font-size="50.38" font-weight="bold" class="sf" fill="#000">(a)</text>
<text transform="translate(55.3 483.2) rotate(-90) translate(-3.12 0) scale(1.0400 1.0000)" font-size="50.72" font-weight="bold" fill="#000">P</text>
<text transform="translate(55.3 436.1) rotate(-90) translate(-2.12 0) scale(1.0581 1.0000)" font-size="51.45" font-weight="bold" fill="#000">concn.</text>
<text transform="translate(55.3 243.2) rotate(-90) translate(-2.13 0) scale(1.0641 1.0000)" font-size="51.45" font-weight="bold" fill="#000">(cm</text>
<text transform="translate(37 148.2) rotate(-90) translate(-1.08 0) scale(1.0824 1.0000)" font-size="31.88" fill="#000">−</text>
<text transform="translate(40.4 127.1) rotate(-90) translate(-0.76 -0.25) scale(1.0059 1.0000)" font-size="33.48" fill="#000" stroke="#000" stroke-width="0.5" stroke-linejoin="round">3</text>
<text transform="translate(55.3 106.9) rotate(-90) translate(0 0) scale(0.8800 1.0000)" font-size="51.45" font-weight="bold" fill="#000">)</text>
<text transform="translate(55.3 967) rotate(-90) translate(-3.2 0) scale(1.0656 1.0000)" font-size="50.72" font-weight="bold" fill="#000">B</text>
<text transform="translate(55.3 914.4) rotate(-90) translate(-2.12 0) scale(1.0581 1.0000)" font-size="51.45" font-weight="bold" fill="#000">concn.</text>
<text transform="translate(55.3 721.5) rotate(-90) translate(-2.13 0) scale(1.0641 1.0000)" font-size="51.45" font-weight="bold" fill="#000">(cm</text>
<text transform="translate(37 626.5) rotate(-90) translate(-1.08 0) scale(1.0824 1.0000)" font-size="31.88" fill="#000">−</text>
<text transform="translate(40.4 605.4) rotate(-90) translate(-0.76 -0.25) scale(1.0059 1.0000)" font-size="33.48" fill="#000" stroke="#000" stroke-width="0.5" stroke-linejoin="round">3</text>
<text transform="translate(55.3 585.2) rotate(-90) translate(0 0) scale(0.8800 1.0000)" font-size="51.45" font-weight="bold" fill="#000">)</text>
<text transform="translate(1382.62 484.3) scale(1.0257 1.0000)" font-size="40.72" fill="#FF0000" stroke="#FF0000" stroke-width="1.4" stroke-linejoin="round">LSA (Diffusion-less)</text>
<text transform="translate(1472.59 569.3) scale(1.0373 1.0000)" font-size="40.72" fill="#0000FF" stroke="#0000FF" stroke-width="1.4" stroke-linejoin="round">RTA (Diffusion</text>
<text transform="translate(1738.44 575.71) scale(1.1727 1.5212)" font-size="42.61" fill="#0000FF" stroke="#0000FF" stroke-width="0.6" stroke-linejoin="round">↑</text>
<text transform="translate(1763.2 569.3) scale(0.7167 1.0000)" font-size="40.72" fill="#0000FF" stroke="#0000FF" stroke-width="1.4" stroke-linejoin="round">)</text>
<text transform="translate(1372.87 658.6) scale(1.0099 1.0000)" font-size="37.97" fill="#000" stroke="#000" stroke-width="1.8" stroke-linejoin="round">I/I energy: 40 keV</text>
<text transform="translate(1372.85 711.6) scale(1.0172 1.0000)" font-size="38.7" fill="#000" stroke="#000" stroke-width="1.8" stroke-linejoin="round">Dose:</text>
<text transform="translate(1492.08 720) scale(0.8332 1.0000)" font-size="41.3" font-weight="bold" fill="#000">Phosphorus</text>
<text transform="translate(1509.91 767.9) scale(0.9711 1.0000)" font-size="37.39" fill="#000" stroke="#000" stroke-width="1.7" stroke-linejoin="round">(5 × 10</text>
<text transform="translate(1627.35 751.7) scale(0.9525 1.0000)" font-size="24.49" fill="#000" stroke="#000" stroke-width="0.6" stroke-linejoin="round">14</text>
<text transform="translate(1663.84 767.9) scale(1.0131 1.0000)" font-size="37.39" fill="#000" stroke="#000" stroke-width="1.7" stroke-linejoin="round">cm</text>
<text transform="translate(1717.3 751.7) scale(1.0039 1.0000)" font-size="24.49" fill="#000" stroke="#000" stroke-width="0.6" stroke-linejoin="round">−2</text>
<text transform="translate(1747.85 767.9) scale(0.6636 1.0000)" font-size="37.39" fill="#000" stroke="#000" stroke-width="1.7" stroke-linejoin="round">)</text>
<text transform="translate(1475.28 836) scale(0.9079 1.0000)" font-size="47.1" font-weight="bold" fill="#000">I/I w/o activation</text>
<text transform="translate(1475.27 897) scale(0.9099 1.0000)" font-size="47.1" font-weight="bold" fill="#000">Laser annealing</text>
<text transform="translate(1478 957.5) scale(0.9024 1.0000)" font-size="47.1" font-weight="bold" fill="#000">Thermal annealing</text>
<text transform="translate(1226.56 62.5) scale(0.8680 1.0000)" font-size="47.1" font-weight="bold" fill="#000">10</text>
<text transform="translate(1273.54 43.3) scale(0.9139 1.0000)" font-size="30.29" fill="#000" stroke="#000" stroke-width="0.9" stroke-linejoin="round">20</text>
<text transform="translate(1226.56 475.75) scale(0.8680 1.0000)" font-size="47.1" font-weight="bold" fill="#000">10</text>
<text transform="translate(1272.56 456.55) scale(0.9435 1.0000)" font-size="30.29" fill="#000" stroke="#000" stroke-width="0.9" stroke-linejoin="round">19</text>
<text transform="translate(1226.56 892.25) scale(0.8680 1.0000)" font-size="47.1" font-weight="bold" fill="#000">10</text>
<text transform="translate(1272.56 873.05) scale(0.9435 1.0000)" font-size="30.29" fill="#000" stroke="#000" stroke-width="0.9" stroke-linejoin="round">18</text>
<text transform="translate(1303.22 1052.5) scale(0.7800 1.0000)" font-size="48.55" font-weight="bold" fill="#000">0</text>
<text transform="translate(1702.2 1052.5) scale(0.8675 1.0000)" font-size="48.55" font-weight="bold" fill="#000">100</text>
<text transform="translate(2126.85 1052.5) scale(0.8456 1.0000)" font-size="48.55" font-weight="bold" fill="#000">200</text>
<text transform="translate(1575.42 1132) scale(0.8613 1.0000)" font-size="55.43" font-weight="bold" fill="#000">Position</text>
<text transform="translate(1780.77 1132) scale(0.8651 1.0000)" font-size="55.43" font-weight="bold" fill="#000">(nm)</text>
<text transform="translate(1694.04 1229.5) scale(1.1031 1.0000)" font-size="50.38" font-weight="bold" class="sf" fill="#000">(b)</text>
<text transform="translate(1192.3 833.2) rotate(-90) translate(-3.09 0) scale(1.0299 1.0000)" font-size="52.17" font-weight="bold" fill="#000">Phosphorus</text>
<text transform="translate(1192.3 501) rotate(-90) translate(-2.07 0) scale(1.0339 1.0000)" font-size="52.17" font-weight="bold" fill="#000">concn.</text>
<text transform="translate(1192.3 309.9) rotate(-90) translate(-2.28 0) scale(1.1406 1.0000)" font-size="52.17" font-weight="bold" fill="#000">(cm</text>
<text transform="translate(1175 207.7) rotate(-90) translate(-1.1 0) scale(1.1000 1.0000)" font-size="31.88" fill="#000">−</text>
<text transform="translate(1177.6 181.8) rotate(-90) translate(-0.74 -0.25) scale(0.9882 1.0000)" font-size="33.48" fill="#000" stroke="#000" stroke-width="0.5" stroke-linejoin="round">3</text>
<text transform="translate(1192.3 161.7) rotate(-90) translate(0 0) scale(0.8667 1.0000)" font-size="52.17" font-weight="bold" fill="#000">)</text>
</svg>
</body></html>
